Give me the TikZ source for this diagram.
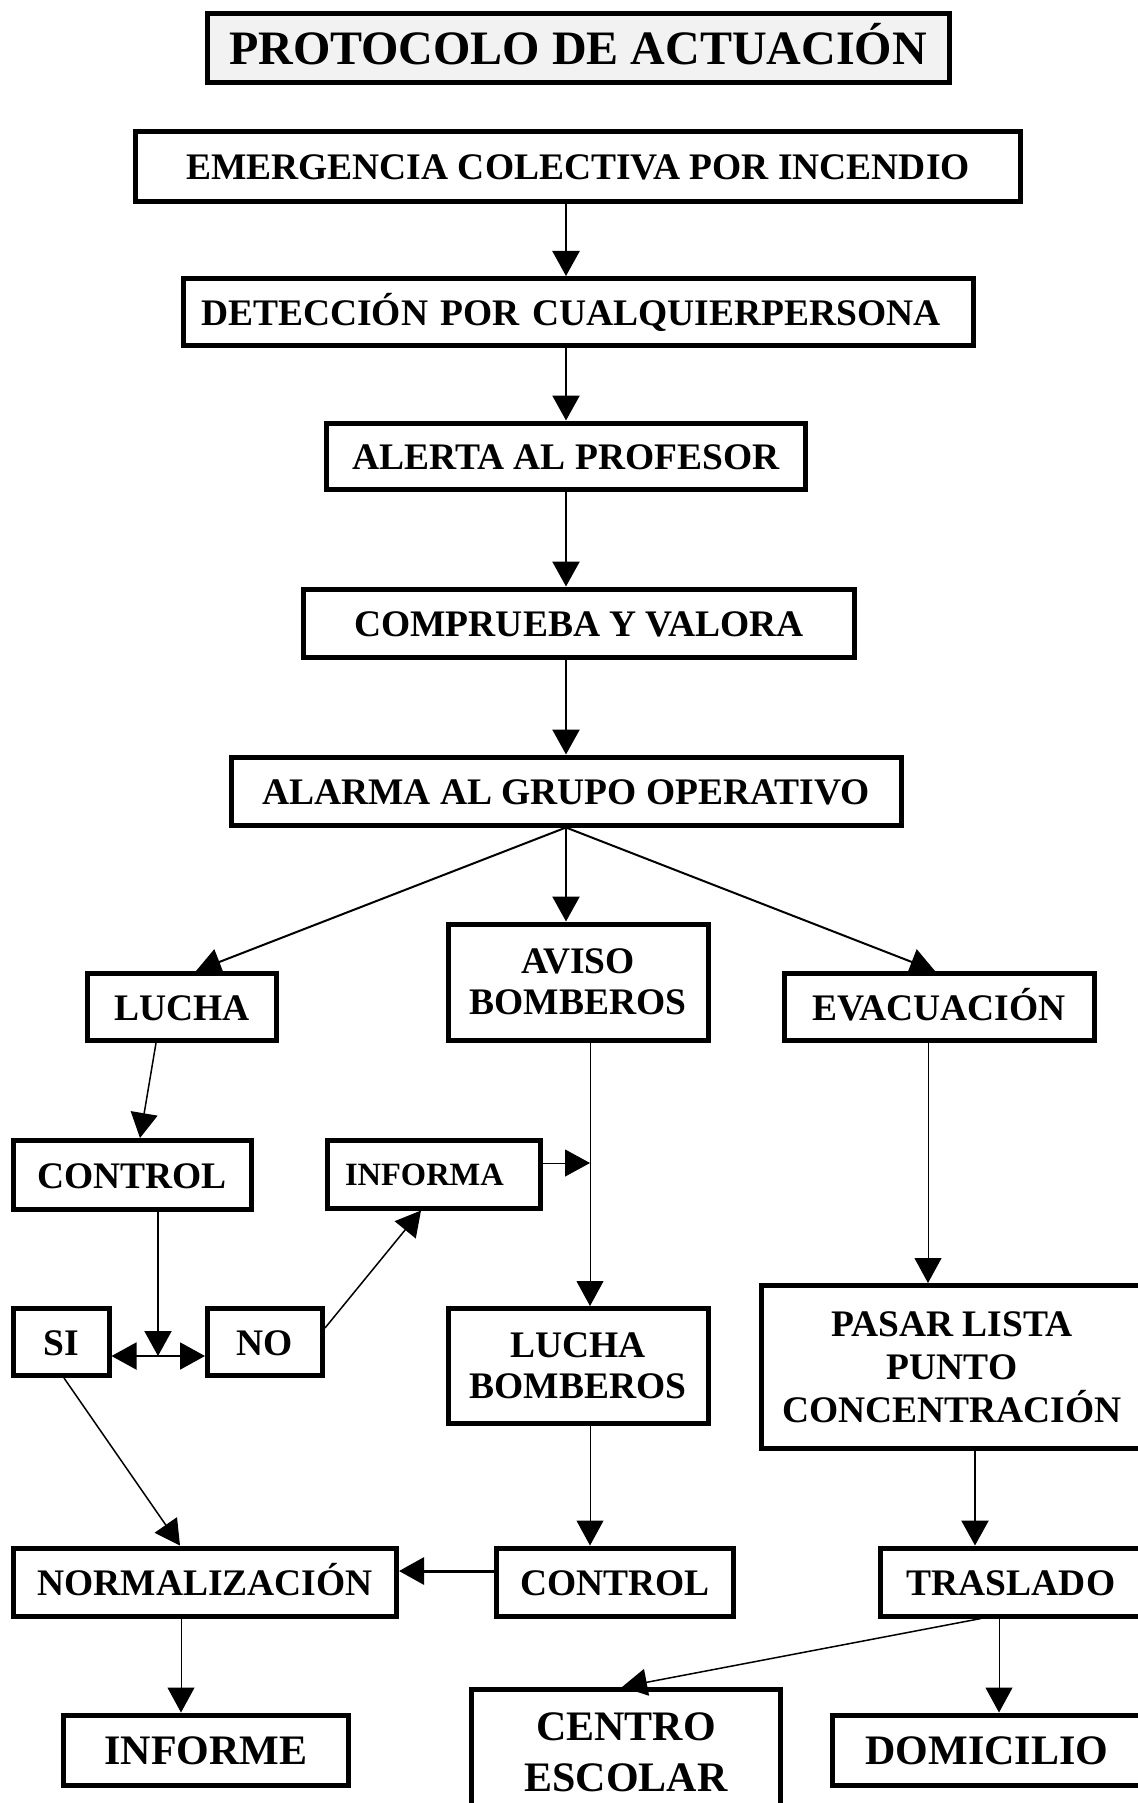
\documentclass[tikz,border=0pt]{standalone}
\usepackage{fontspec}
\setmainfont{Liberation Serif}
\usetikzlibrary{arrows.meta}

\begin{document}
\begin{tikzpicture}[x=1pt, y=-1pt,
  caja/.style={draw, line width=5pt, inner sep=0pt, align=center, font=\fontsize{37.5}{41}\selectfont\bfseries},
  linea/.style={text height=26pt, text depth=0pt},
  grande/.style={font=\fontsize{42}{51}\selectfont\bfseries},
  flecha/.style={-{Triangle[length=25pt,width=27pt]}, line width=2.5pt},
  finaflecha/.style={flecha, line width=1pt},
  doble/.style={{Triangle[length=25pt,width=27pt]}-{Triangle[length=25pt,width=27pt]}, line width=2pt}]

\useasboundingbox (0,0) rectangle (1137,1803);

% Title
\node[caja, fill=gray!10, font=\fontsize{48}{54}\selectfont\bfseries, text height=33pt, text depth=0pt, minimum width=742pt, minimum height=69pt] (titulo) at (578,48) {PROTOCOLO DE ACTUACIÓN};

% Main column
\node[caja, linea, minimum width=885pt, minimum height=70pt] (emergencia) at (578,167) {EMERGENCIA COLECTIVA POR INCENDIO};
\node[caja, linea, align=left, text width=754pt, minimum width=790pt, minimum height=67pt] (deteccion) at (578,312) {DETECCIÓN POR CUALQUIERPERSONA};
\node[caja, linea, minimum width=479pt, minimum height=66pt] (alerta) at (566,456) {ALERTA AL PROFESOR};
\node[caja, linea, minimum width=551pt, minimum height=68pt] (comprueba) at (579,623) {COMPRUEBA Y VALORA};
\node[caja, linea, minimum width=670pt, minimum height=68pt] (alarma) at (566,791) {ALARMA AL GRUPO OPERATIVO};

% Three branches
\node[caja, linea, minimum width=189pt, minimum height=67pt] (lucha) at (182,1007) {LUCHA};
\node[caja, minimum width=260pt, minimum height=116pt] (aviso) at (578,982) {AVISO\\BOMBEROS};
\node[caja, linea, minimum width=310pt, minimum height=67pt] (evacuacion) at (939,1007) {EVACUACIÓN};

\node[caja, linea, minimum width=238pt, minimum height=69pt] (controlA) at (132,1175) {CONTROL};
\node[caja, font=\fontsize{32.5}{38}\selectfont\bfseries, text height=22pt, text depth=0pt, align=left, text width=178pt, minimum width=213pt, minimum height=68pt] (informa) at (434,1174) {INFORMA};
\node[caja, linea, minimum width=96pt, minimum height=67pt] (si) at (61,1342) {SI};
\node[caja, linea, minimum width=115pt, minimum height=67pt] (no) at (265,1342) {NO};
\node[caja, minimum width=260pt, minimum height=115pt] (luchab) at (578,1366) {LUCHA\\BOMBEROS};
\node[caja, font=\fontsize{37.5}{43}\selectfont\bfseries, minimum width=381pt, minimum height=163pt] (pasar) at (952,1367) {PASAR LISTA\\PUNTO\\CONCENTRACIÓN};

\node[caja, linea, minimum width=383pt, minimum height=68pt] (normalizacion) at (205,1582) {NORMALIZACIÓN};
\node[caja, linea, minimum width=237pt, minimum height=68pt] (controlB) at (615,1582) {CONTROL};
\node[caja, linea, minimum width=262pt, minimum height=68pt] (traslado) at (1011,1582) {TRASLADO};

% Bottom row
\node[caja, grande, text height=29pt, text depth=0pt, minimum width=285pt, minimum height=70pt] (informe) at (206,1750) {INFORME};
\node[caja, grande, minimum width=309pt, minimum height=125pt] (centro) at (626,1752) {CENTRO\\ESCOLAR};
\node[caja, grande, text height=29pt, text depth=0pt, minimum width=310pt, minimum height=70pt] (domicilio) at (987,1750) {DOMICILIO};

% Arrows down the main column
\coordinate (eje) at (566,0);
\draw[flecha] (emergencia.south -| eje) -- (deteccion.north -| eje);
\draw[flecha] (deteccion.south -| eje) -- (alerta.north -| eje);
\draw[flecha] (alerta.south -| eje) -- (comprueba.north -| eje);
\draw[flecha] (comprueba.south -| eje) -- (alarma.north -| eje);
\draw[flecha] (alarma.south -| eje) -- (aviso.north -| eje);
\draw[flecha, line width=2pt] (alarma.south -| eje) -- ([xshift=14pt]lucha.north);
\draw[flecha, line width=2pt] (alarma.south -| eje) -- ([xshift=-4pt]evacuacion.north);

% Firemen line
\coordinate (bajada) at (590,0);
\draw[finaflecha] (aviso.south -| bajada) -- (luchab.north -| bajada);
\draw[finaflecha] ([yshift=11pt]informa.east) -- ([yshift=11pt]informa.east -| bajada);
\draw[finaflecha] (luchab.south -| bajada) -- (controlB.north -| bajada);
\draw[flecha, line width=3pt] ([yshift=11pt]controlB.west) -- ([yshift=11pt]controlB.west -| normalizacion.east);

% Evacuation line
\coordinate (ruta) at (928,0);
\coordinate (ruta2) at (975,0);
\coordinate (ruta3) at (999,0);
\draw[finaflecha] (evacuacion.south -| ruta) -- (pasar.north -| ruta);
\draw[flecha] (pasar.south -| ruta2) -- (traslado.north -| ruta2);
\draw[flecha, line width=1.5pt] ([xshift=-30pt]traslado.south) -- ([xshift=-4pt]centro.north);
\draw[finaflecha] (traslado.south -| ruta3) -- (domicilio.north -| ruta3);

% Fight line
\coordinate (cruce) at (158,1356);
\coordinate (ruta4) at (181,0);
\draw[flecha, line width=1.5pt] ([xshift=-26pt]lucha.south) -- ([xshift=8pt]controlA.north);
\draw[flecha, line width=2pt] (controlA.south -| cruce) -- (cruce);
\draw[doble] (si.east |- cruce) -- (no.west |- cruce);
\draw[flecha, line width=1.5pt] ([yshift=14pt]no.east) -- ([xshift=-13pt]informa.south);
\draw[flecha, line width=1.5pt] ([xshift=3pt]si.south) -- ([xshift=-25pt]normalizacion.north);
\draw[finaflecha] (normalizacion.south -| ruta4) -- (informe.north -| ruta4);

\end{tikzpicture}
\end{document}
